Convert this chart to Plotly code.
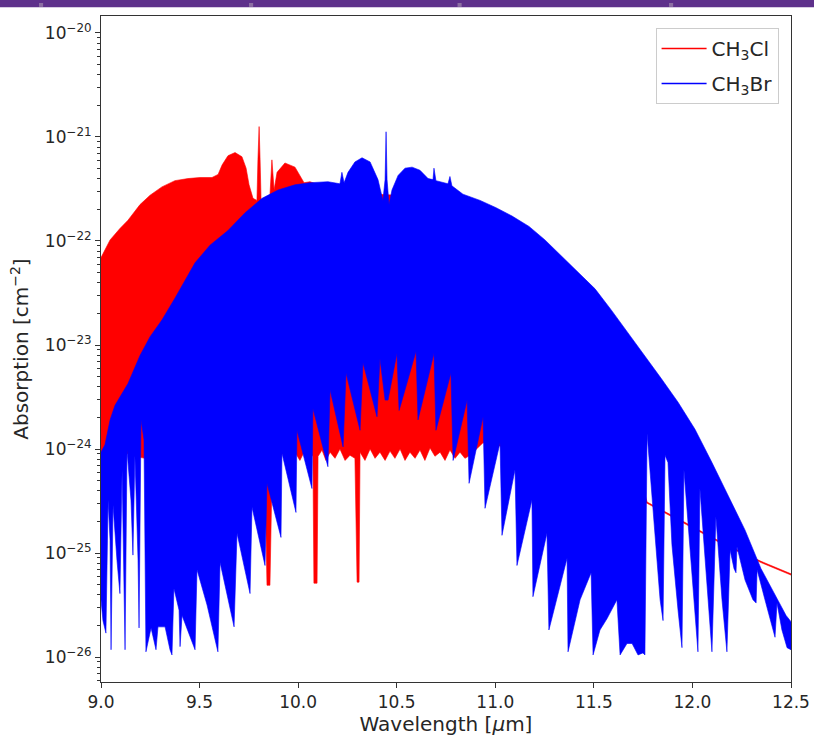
import plotly.graph_objects as go

# ---- data (wavelength in um, log10 of absorption in cm^-2) ----
# CH3Cl: upper and lower envelope of the dense line spectrum
wl_cl_top = [9.000, 9.010, 9.046, 9.096, 9.137, 9.198, 9.249, 9.309, 9.375, 9.441, 9.502, 9.563,
             9.594, 9.614, 9.644, 9.680, 9.715, 9.736, 9.751, 9.771, 9.791, 9.796, 9.802, 9.807,
             9.812, 9.837, 9.857, 9.867, 9.878, 9.893, 9.933, 9.984, 10.010, 10.030, 10.060,
             10.101, 10.162, 10.517, 10.720, 10.923, 11.126, 11.329, 11.531, 11.684, 11.770,
             11.947, 12.150, 12.348, 12.500]
log_cl_top = [-22.16, -22.12, -21.99, -21.88, -21.80, -21.65, -21.56, -21.48, -21.42, -21.40, -21.39,
              -21.39, -21.36, -21.27, -21.18, -21.15, -21.19, -21.30, -21.46, -21.59, -21.61, -21.22,
              -20.90, -21.22, -21.61, -21.59, -21.56, -21.22, -21.51, -21.34, -21.25, -21.29, -21.37,
              -21.44, -21.43, -21.46, -21.53, -21.56, -21.58, -21.75, -22.09, -22.57, -23.24, -23.91,
              -24.51, -24.69, -24.90, -25.08, -25.20]
wl_cl_bot = [9.000, 9.086, 9.172, 9.223, 9.502, 9.817, 9.832, 9.842, 9.857, 9.868, 9.888, 9.933,
             9.959, 9.984, 10.009, 10.035, 10.060, 10.075, 10.080, 10.096, 10.101, 10.121, 10.141,
             10.162, 10.187, 10.212, 10.238, 10.263, 10.288, 10.299, 10.309, 10.314, 10.339, 10.365,
             10.390, 10.415, 10.441, 10.466, 10.491, 10.517, 10.542, 10.567, 10.593, 10.618, 10.643,
             10.669, 10.694, 10.720, 10.745, 10.770, 10.796, 10.821, 10.846, 10.872, 10.938, 11.024,
             11.125, 11.328, 11.531, 11.683, 11.770, 11.947, 12.150, 12.348, 12.500]
log_cl_bot = [-24.03, -24.01, -24.07, -24.09, -24.09, -24.09, -24.33, -25.31, -25.31, -24.20, -24.09,
              -24.03, -24.09, -24.03, -24.11, -24.01, -24.09, -24.06, -25.29, -25.29, -24.07, -24.01,
              -24.11, -24.03, -24.09, -24.00, -24.11, -24.06, -24.09, -25.28, -25.28, -24.03, -24.11,
              -24.00, -24.09, -24.03, -24.11, -24.02, -24.09, -24.00, -24.11, -24.03, -24.09, -24.01,
              -24.11, -23.99, -24.07, -24.03, -24.11, -24.01, -24.09, -24.03, -24.09, -24.06, -23.94,
              -23.97, -24.06, -24.20, -24.36, -24.46, -24.522, -24.702, -24.912, -25.092, -25.212]

# CH3Br: upper and lower envelope
wl_br_top = [9.000, 9.020, 9.046, 9.071, 9.137, 9.198, 9.249, 9.309, 9.375, 9.426, 9.477, 9.553,
             9.644, 9.730, 9.817, 9.898, 9.984, 10.060, 10.151, 10.212, 10.222, 10.233, 10.253,
             10.288, 10.324, 10.365, 10.405, 10.430, 10.441, 10.446, 10.451, 10.461, 10.476, 10.507,
             10.542, 10.578, 10.618, 10.659, 10.684, 10.689, 10.699, 10.760, 10.770, 10.780, 10.836,
             10.923, 11.004, 11.085, 11.171, 11.252, 11.338, 11.420, 11.506, 11.587, 11.673, 11.759,
             11.841, 11.927, 12.013, 12.099, 12.180, 12.267, 12.348, 12.419, 12.475, 12.500]
log_br_top = [-24.03, -23.96, -23.72, -23.58, -23.37, -23.10, -22.92, -22.76, -22.55, -22.38, -22.21,
              -22.04, -21.90, -21.73, -21.59, -21.51, -21.46, -21.44, -21.43, -21.45, -21.34, -21.44,
              -21.34, -21.24, -21.20, -21.24, -21.41, -21.61, -21.41, -20.95, -21.41, -21.65, -21.51,
              -21.37, -21.30, -21.29, -21.32, -21.40, -21.41, -21.30, -21.42, -21.45, -21.38, -21.47,
              -21.55, -21.61, -21.68, -21.76, -21.86, -21.99, -22.15, -22.30, -22.46, -22.66, -22.88,
              -23.10, -23.32, -23.55, -23.81, -24.13, -24.45, -24.78, -25.15, -25.40, -25.60, -25.66]
wl_br_bot = [9.000, 9.010, 9.025, 9.036, 9.046, 9.051, 9.061, 9.081, 9.096, 9.107,
             9.117, 9.122, 9.132, 9.152, 9.162, 9.172, 9.188, 9.193, 9.203, 9.218,
             9.228, 9.254, 9.279, 9.289, 9.325, 9.350, 9.360, 9.370, 9.396, 9.401,
             9.411, 9.477, 9.487, 9.538, 9.593, 9.604, 9.675, 9.690, 9.756, 9.766,
             9.832, 9.842, 9.913, 9.918, 9.989, 9.994, 10.070, 10.075, 10.151, 10.162,
             10.228, 10.243, 10.314, 10.329, 10.400, 10.415, 10.441, 10.456, 10.501, 10.512,
             10.598, 10.608, 10.689, 10.699, 10.775, 10.786, 10.857, 10.867, 10.938, 10.948,
             11.024, 11.034, 11.100, 11.110, 11.186, 11.191, 11.262, 11.272, 11.364, 11.369,
             11.430, 11.486, 11.496, 11.531, 11.567, 11.617, 11.633, 11.668, 11.694, 11.724,
             11.749, 11.759, 11.770, 11.785, 11.815, 11.836, 11.851, 11.861, 11.876, 11.896,
             11.927, 11.947, 11.957, 11.988, 12.028, 12.038, 12.069, 12.099, 12.119, 12.150,
             12.175, 12.191, 12.211, 12.221, 12.226, 12.267, 12.307, 12.323, 12.328, 12.368,
             12.419, 12.429, 12.454, 12.480, 12.500]
log_br_bot = [-25.45, -25.65, -25.77, -24.49, -24.88, -25.93, -24.54, -25.07, -25.39, -24.20,
              -25.45, -25.93, -24.01, -24.49, -25.02, -24.06, -25.07, -25.72, -23.72, -23.91,
              -25.95, -25.72, -25.93, -25.71, -25.71, -25.93, -25.98, -25.34, -25.55, -25.90,
              -25.60, -25.93, -25.16, -25.50, -25.95, -25.09, -25.71, -24.81, -25.39, -24.56,
              -25.12, -24.33, -24.85, -24.04, -24.61, -23.82, -24.38, -23.61, -24.17, -23.43,
              -23.98, -23.27, -23.82, -23.17, -23.69, -23.13, -23.53, -23.53, -23.08, -23.63,
              -23.06, -23.72, -23.08, -23.82, -23.27, -24.11, -23.53, -24.33, -23.69, -24.57,
              -23.94, -24.83, -24.20, -25.12, -24.49, -25.42, -24.81, -25.74, -25.05, -25.95,
              -25.45, -25.19, -25.98, -25.74, -25.63, -25.45, -25.98, -25.87, -25.87, -25.98,
              -25.96, -25.98, -23.85, -24.20, -24.92, -25.45, -25.65, -24.06, -24.13, -24.92,
              -25.55, -25.91, -24.20, -24.92, -25.95, -24.38, -25.16, -25.95, -24.65, -25.45,
              -25.95, -24.97, -25.15, -25.19, -24.94, -25.26, -25.45, -25.48, -25.16, -25.45,
              -25.81, -25.48, -25.74, -25.91, -25.93]

x_ticks = [9.0, 9.5, 10.0, 10.5, 11.0, 11.5, 12.0, 12.5]
y_tick_exponents = [-26, -25, -24, -23, -22, -21, -20]
series_names = ["CH<sub>3</sub>Cl", "CH<sub>3</sub>Br"]
series_colors = ["#ff0000", "#0000ff"]


def band(wl_top, lg_top, wl_bot, lg_bot):
    xs = list(wl_top) + list(reversed(wl_bot))
    ys = [10 ** v for v in lg_top] + [10 ** v for v in reversed(lg_bot)]
    return xs, ys


fig = go.Figure()
for (wt, lt, wb, lb), color in zip(
        [(wl_cl_top, log_cl_top, wl_cl_bot, log_cl_bot),
         (wl_br_top, log_br_top, wl_br_bot, log_br_bot)], series_colors):
    xs, ys = band(wt, lt, wb, lb)
    fig.add_trace(go.Scatter(x=xs, y=ys, mode="lines", fill="toself", fillcolor=color,
                             line=dict(color=color, width=0.6), showlegend=False,
                             hoverinfo="skip"))

for i, (name, color) in enumerate(zip(series_names, series_colors)):
    fig.add_trace(go.Scatter(x=[None], y=[None], mode="lines", name=name,
                             legendgroup=f"g{i}", line=dict(color=color, width=1.5)))

axis_color = "#333333"
minor_vals = [k * 10.0 ** e for e in range(-27, -19) for k in range(2, 10)]

fig.update_layout(
    width=814, height=745,
    margin=dict(l=101, r=23, t=16, b=63, autoexpand=False),
    plot_bgcolor="white", paper_bgcolor="white",
    font=dict(family="DejaVu Sans", size=17, color="#262626"),
    legend=dict(x=0.982, xanchor="right", y=0.982, yanchor="top",
                bgcolor="rgba(255,255,255,0.85)", bordercolor="#cccccc", borderwidth=1,
                font=dict(size=20), traceorder="grouped", tracegroupgap=6, itemwidth=45),
    xaxis=dict(range=[9.0, 12.5], tickmode="array", tickvals=x_ticks,
               ticktext=[f"{v:.1f}" for v in x_ticks], automargin=False,
               ticks="outside", ticklen=5, tickwidth=1, tickcolor=axis_color,
               showline=True, linecolor=axis_color, linewidth=1, mirror=True,
               showgrid=False, zeroline=False,
               title=dict(text="Wavelength [<i>μ</i>m]", standoff=3)),
    yaxis=dict(type="log", range=[-26.24, -19.837], tickmode="array", automargin=False,
               tickvals=[10.0 ** e for e in y_tick_exponents],
               ticktext=[f"10<sup>−{abs(e)}</sup>" for e in y_tick_exponents],
               ticks="outside", ticklen=5, tickwidth=1, tickcolor=axis_color,
               minor=dict(tickmode="array", tickvals=minor_vals, ticks="outside",
                          ticklen=3, tickwidth=1, tickcolor=axis_color, showgrid=False),
               showline=True, linecolor=axis_color, linewidth=1, mirror=True,
               showgrid=False, zeroline=False,
               title=dict(text="Absorption [cm<sup>−2</sup>]", standoff=10)),
    shapes=[
        dict(type="rect", xref="paper", yref="paper", x0=-0.1464, x1=1.0334,
             y0=1.0131, y1=1.0245, fillcolor="#5e318b", line=dict(width=0), layer="above"),
    ] + [
        dict(type="rect", xref="paper", yref="paper", x0=xp, x1=xp + 0.006,
             y0=1.0137, y1=1.0195, fillcolor="#8c6fa3", line=dict(width=0), layer="above")
        for xp in [-0.0899, 0.2145, 0.5167, 0.8232]
    ],
)

fig.write_html("out.html")
